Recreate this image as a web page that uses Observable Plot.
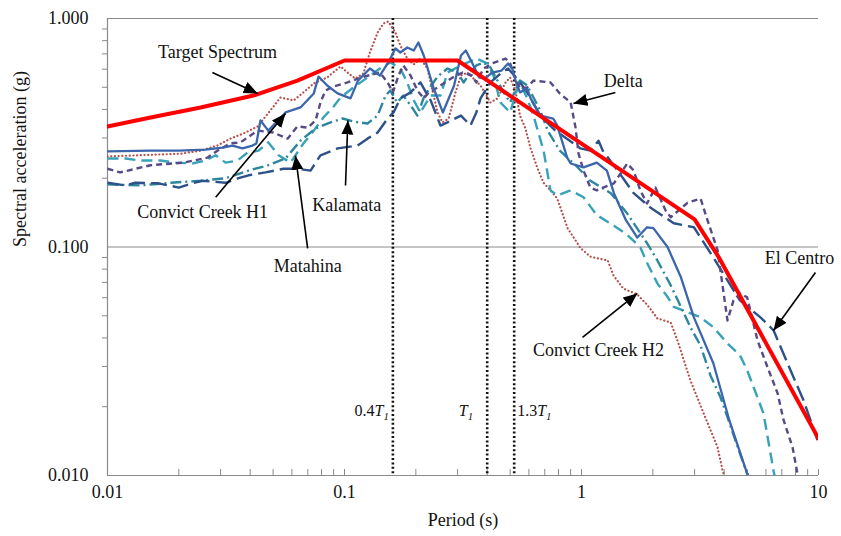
<!DOCTYPE html>
<html><head><meta charset="utf-8">
<script src="https://cdn.jsdelivr.net/npm/d3@7"></script>
<script src="https://cdn.jsdelivr.net/npm/@observablehq/plot@0.6"></script>
<style>html,body{margin:0;padding:0;background:#fff;}</style>
</head><body><div id="chart"></div>
<script>
// ---------- data (period in s, spectral acceleration in g) ----------
const targetT  = [0.01,0.0152,0.0247,0.0413,0.0633,0.1,0.3,3.0,3.8,10];
const targetSa = [0.337,0.369,0.408,0.46,0.535,0.655,0.655,0.132,0.09,0.0145];

const h1T  = [0.01,0.0152,0.02,0.0259,0.0306,0.0337,0.0371,0.0409,0.0425,0.0442,0.0477,0.0564,0.0652,0.0742,0.0777,0.0845,0.0935,0.106,0.114,0.128,0.141,0.153,0.164,0.172,0.184,0.196,0.205,0.216,0.238,0.26,0.29,0.31,0.325,0.345,0.37,0.39,0.42,0.46,0.49,0.51,0.53,0.55,0.59,0.61,0.67,0.76,0.79,0.87,0.90,1.02,1.16,1.28,1.37,1.54,1.72,1.89,2.01,2.31,2.63,2.98,3.6,4.2,5.0,5.4];
const h1Sa = [0.262,0.264,0.264,0.267,0.272,0.278,0.270,0.278,0.284,0.358,0.323,0.388,0.408,0.470,0.557,0.509,0.470,0.447,0.535,0.604,0.563,0.642,0.739,0.710,0.747,0.724,0.785,0.689,0.494,0.388,0.509,0.689,0.724,0.642,0.552,0.546,0.580,0.592,0.636,0.604,0.525,0.475,0.494,0.447,0.376,0.365,0.340,0.246,0.232,0.223,0.234,0.216,0.172,0.131,0.110,0.122,0.121,0.0997,0.0735,0.0492,0.031,0.0175,0.0102,0.0087];

const h2T  = [0.01,0.0203,0.0247,0.0291,0.033,0.0375,0.043,0.0487,0.0537,0.061,0.0671,0.0742,0.0845,0.0962,0.103,0.111,0.12,0.128,0.138,0.146,0.153,0.164,0.172,0.184,0.196,0.209,0.224,0.231,0.247,0.259,0.275,0.294,0.31,0.33,0.35,0.375,0.413,0.442,0.478,0.50,0.528,0.55,0.58,0.61,0.652,0.692,0.74,0.79,0.873,0.99,1.09,1.29,1.365,1.50,1.72,1.90,2.09,2.38,2.54,2.88,3.27,3.75,3.94,4.13];
const h2Sa = [0.249,0.256,0.264,0.278,0.298,0.314,0.337,0.396,0.451,0.438,0.475,0.520,0.552,0.617,0.580,0.546,0.574,0.710,0.869,0.951,0.970,0.869,0.762,0.668,0.629,0.668,0.604,0.525,0.388,0.351,0.365,0.475,0.563,0.580,0.546,0.509,0.429,0.447,0.525,0.552,0.475,0.376,0.330,0.270,0.221,0.191,0.177,0.163,0.121,0.099,0.0907,0.0873,0.0750,0.0658,0.0620,0.0556,0.0487,0.0467,0.0390,0.0261,0.0188,0.0133,0.0105,0.0090];

const deltaT  = [0.01,0.0113,0.0152,0.0209,0.0264,0.0291,0.033,0.0364,0.043,0.05,0.0575,0.0633,0.07,0.0755,0.0792,0.0831,0.09,0.103,0.114,0.126,0.141,0.152,0.16,0.169,0.177,0.19,0.203,0.216,0.227,0.247,0.286,0.315,0.345,0.36,0.386,0.42,0.478,0.50,0.52,0.55,0.59,0.627,0.74,0.81,0.90,0.944,0.971,1.02,1.09,1.16,1.37,1.56,1.66,1.77,1.89,2.05,2.26,2.38,2.80,3.18,3.40,3.75,4.13,4.38,4.66,5.0,5.53,6.10,6.72,7.12,7.77,8.15,8.4];
const deltaSa = [0.220,0.212,0.228,0.234,0.246,0.264,0.284,0.287,0.323,0.317,0.298,0.337,0.333,0.358,0.429,0.484,0.504,0.525,0.546,0.563,0.580,0.525,0.475,0.563,0.623,0.563,0.484,0.447,0.475,0.499,0.552,0.580,0.563,0.525,0.604,0.636,0.668,0.636,0.563,0.494,0.499,0.535,0.525,0.470,0.429,0.333,0.257,0.216,0.182,0.177,0.190,0.232,0.216,0.177,0.155,0.182,0.145,0.135,0.156,0.163,0.131,0.097,0.0477,0.0584,0.0626,0.0602,0.039,0.0297,0.0229,0.0175,0.0133,0.0102,0.0090];

const kalT  = [0.01,0.0138,0.0185,0.0247,0.0315,0.0394,0.0477,0.0564,0.0652,0.0755,0.0873,0.0981,0.109,0.125,0.138,0.149,0.156,0.167,0.177,0.19,0.203,0.216,0.231,0.247,0.272,0.30,0.318,0.34,0.36,0.386,0.413,0.442,0.469,0.50,0.537,0.55,0.59,0.627,0.67,0.72,0.81,0.944,1.09,1.33,1.56,1.89,2.09,2.38,2.63,2.88,3.18,3.50,3.86,4.13,4.66,5.0,5.27];
const kalSa = [0.188,0.186,0.191,0.195,0.200,0.216,0.228,0.244,0.292,0.330,0.351,0.365,0.354,0.347,0.376,0.460,0.484,0.429,0.460,0.417,0.376,0.451,0.504,0.557,0.604,0.580,0.525,0.580,0.623,0.642,0.610,0.535,0.475,0.429,0.509,0.535,0.509,0.451,0.396,0.323,0.264,0.228,0.195,0.172,0.140,0.104,0.0873,0.0679,0.0546,0.0446,0.0370,0.0274,0.0220,0.0180,0.0125,0.0102,0.0090];

const matT  = [0.01,0.0119,0.0138,0.0167,0.0194,0.0228,0.0259,0.0286,0.0315,0.0354,0.039,0.0434,0.0477,0.0527,0.0592,0.0671,0.0742,0.0815,0.09,0.0962,0.109,0.125,0.141,0.156,0.172,0.184,0.196,0.209,0.231,0.254,0.272,0.31,0.36,0.40,0.425,0.455,0.50,0.537,0.55,0.59,0.627,0.692,0.74,0.79,0.90,1.02,1.16,1.37,1.56,1.77,1.89,2.09,2.31,2.45,2.80,3.18,3.6,4.13,4.66,5.0,5.32,5.86,6.46,6.66];
const matSa = [0.244,0.244,0.239,0.239,0.234,0.232,0.239,0.252,0.234,0.239,0.259,0.264,0.287,0.252,0.234,0.284,0.323,0.369,0.412,0.451,0.499,0.552,0.604,0.642,0.604,0.525,0.438,0.388,0.460,0.460,0.580,0.623,0.668,0.636,0.563,0.429,0.388,0.494,0.525,0.447,0.376,0.264,0.177,0.168,0.177,0.165,0.138,0.124,0.113,0.0997,0.0853,0.0693,0.0604,0.0547,0.0519,0.0492,0.0446,0.0378,0.0336,0.0289,0.0244,0.0187,0.0105,0.0090];

const elcT  = [0.01,0.0119,0.0131,0.0164,0.02,0.0228,0.0252,0.0315,0.0357,0.0394,0.0464,0.0553,0.0633,0.0719,0.0792,0.0935,0.1135,0.125,0.138,0.152,0.161,0.172,0.19,0.209,0.231,0.254,0.272,0.31,0.34,0.36,0.375,0.413,0.455,0.49,0.52,0.55,0.59,0.67,0.776,0.925,0.99,1.09,1.18,1.23,1.42,1.66,1.95,2.45,2.98,3.6,4.13,4.66,5.69,6.46,7.40,8.65,9.9];
const elcSa = [0.191,0.186,0.191,0.190,0.182,0.190,0.195,0.191,0.200,0.206,0.212,0.220,0.220,0.216,0.252,0.270,0.278,0.298,0.317,0.365,0.388,0.447,0.475,0.525,0.438,0.340,0.351,0.376,0.340,0.388,0.447,0.525,0.574,0.604,0.563,0.525,0.475,0.376,0.323,0.284,0.270,0.264,0.292,0.264,0.216,0.172,0.149,0.127,0.122,0.090,0.0714,0.0584,0.0492,0.0432,0.031,0.0213,0.0143];

const periodMarks  = [0.16, 0.4, 0.52];
const periodLabels = ["0.4T1", "T1", "1.3T1"];

const xMajor = [0.01, 0.1, 1, 10];
const yMajor = [0.01, 0.1, 1];
const xMinor = [0.02,0.03,0.04,0.05,0.06,0.07,0.08,0.09,0.2,0.3,0.4,0.5,0.6,0.7,0.8,0.9,2,3,4,5,6,7,8,9];
const yMinor = [0.02,0.03,0.04,0.05,0.06,0.07,0.08,0.09,0.2,0.3,0.4,0.5,0.6,0.7,0.8,0.9];

const annLabels = ["Target Spectrum","Convict Creek H1","Kalamata","Matahina","Delta","El Centro","Convict Creek H2"];
const annTextT  = [0.0291,0.0252,0.1023,0.0699,1.50,8.32,1.18];
const annTextSa = [0.71,0.1416,0.153,0.0822,0.53,0.0891,0.0352];
const annFromT  = [0.0277,0.0286,0.101,0.0699,1.39,9.71,1.01];
const annFromSa = [0.58,0.165,0.186,0.0986,0.474,0.0773,0.0402];
const annToT    = [0.043,0.0564,0.1033,0.0621,0.925,6.46,1.72];
const annToSa   = [0.47,0.384,0.358,0.251,0.425,0.0431,0.0626];

// ---------- styles ----------
const seriesDefs = [
  {T: h2T,    Sa: h2Sa,    stroke: "#b5504c", width: 2.2, dash: "0.1 3.6", cap: "round"},
  {T: matT,   Sa: matSa,   stroke: "#38a2b8", width: 2.4, dash: "11 6", cap: "butt"},
  {T: kalT,   Sa: kalSa,   stroke: "#2c879e", width: 2.4, dash: "11 4 2 4", cap: "butt"},
  {T: elcT,   Sa: elcSa,   stroke: "#2d5189", width: 2.4, dash: "16 6", cap: "butt"},
  {T: deltaT, Sa: deltaSa, stroke: "#574a86", width: 2.4, dash: "6 4", cap: "butt"},
  {T: h1T,    Sa: h1Sa,    stroke: "#3c66ab", width: 2.3, dash: null, cap: "round"}
];
const rowsOf = (T, Sa) => T.map((t, i) => ({T: t, Sa: Sa[i]})).filter(d => d.Sa != null);
const annotations = annLabels.map((l, i) => ({label: l, x: annTextT[i], y: annTextSa[i],
  x1: annFromT[i], y1: annFromSa[i], x2: annToT[i], y2: annToSa[i]}));
const pm = periodMarks.map((t, i) => ({T: t, label: periodLabels[i]}));

const NS = "http://www.w3.org/2000/svg";
function headMarker() {
  const m = document.createElementNS(NS, "marker");
  m.setAttribute("viewBox", "-14 -6.5 14 13");
  m.setAttribute("markerWidth", "14");
  m.setAttribute("markerHeight", "13");
  m.setAttribute("markerUnits", "userSpaceOnUse");
  m.setAttribute("orient", "auto");
  m.setAttribute("refX", "0");
  m.setAttribute("refY", "0");
  const p = document.createElementNS(NS, "path");
  p.setAttribute("d", "M-14,-6L0,0L-14,6Z");
  p.setAttribute("fill", "black");
  p.setAttribute("stroke", "none");
  m.appendChild(p);
  return m;
}

function build(marker) {
  const grey = "#8a8a8a";
  return Plot.plot({
    width: 841, height: 536,
    marginLeft: 107, marginRight: 23, marginTop: 18, marginBottom: 61,
    style: {fontFamily: "'Liberation Serif','Times New Roman',serif", fontSize: "18px", background: "#fff", color: "#111"},
    x: {type: "log", domain: [0.01, 10]},
    y: {type: "log", domain: [0.01, 1]},
    marks: [
      Plot.ruleY([0.1, 1], {stroke: grey, strokeWidth: 1}),
      Plot.ruleY([0.01], {stroke: grey, strokeWidth: 1.2}),
      Plot.ruleX([0.01], {stroke: grey, strokeWidth: 1.2}),
      Plot.tickX(xMinor.concat(xMajor), {x: d => d, insetTop: 451, stroke: grey}),
      Plot.axisY({ticks: yMinor, tickSize: 5, tickFormat: () => "", color: grey, label: null}),
      Plot.axisY({ticks: yMajor, tickSize: 0, tickPadding: 19, tickFormat: d => d.toFixed(3), label: null, color: "#111"}),
      Plot.axisX({ticks: xMajor, tickSize: 0, tickPadding: 10, tickFormat: d => String(d), label: null, color: "#111"}),
      Plot.ruleX(pm, {x: "T", stroke: "#111", strokeWidth: 2.6, strokeDasharray: "2 2.4"}),
      ...seriesDefs.map(s => Plot.line(rowsOf(s.T, s.Sa), {x: "T", y: "Sa", stroke: s.stroke, strokeWidth: s.width,
        strokeDasharray: s.dash, strokeLinecap: s.cap, strokeLinejoin: "round", clip: true})),
      Plot.line(rowsOf(targetT, targetSa), {x: "T", y: "Sa", stroke: "#ff0000", strokeWidth: 4, strokeLinejoin: "round", clip: true}),
      Plot.link(annotations, {x1: "x1", y1: "y1", x2: "x2", y2: "y2", stroke: "#000", strokeWidth: 1.6, markerEnd: marker}),
      Plot.text(annotations, {x: "x", y: "y", text: "label", fontSize: 18, fill: "#111"}),
      Plot.text([pm[0]], {x: "T", y: () => 0.0192, text: "label", textAnchor: "end", dx: -4, fontSize: 16, fill: "#111"}),
      Plot.text([pm[1]], {x: "T", y: () => 0.0192, text: "label", textAnchor: "end", dx: -14, fontSize: 16, fill: "#111"}),
      Plot.text([pm[2]], {x: "T", y: () => 0.0192, text: "label", textAnchor: "start", dx: 3, fontSize: 16, fill: "#111"}),
      Plot.text(["Period (s)"], {frameAnchor: "bottom", dy: 50, fontSize: 18, fill: "#111"}),
      Plot.text(["Spectral acceleration (g)"], {frameAnchor: "left", dx: -87, rotate: -90, fontSize: 18, fill: "#111"})
    ]
  });
}

let chart;
try { chart = build(headMarker); } catch (e) { chart = build("arrow"); }

// subscripts for T1 labels
d3.select(chart).selectAll("text").each(function () {
  const t = this.textContent;
  const m = t.match(/^(.*)T1$/);
  if (m && this.childElementCount === 0) {
    const s = d3.select(this);
    s.text(null);
    if (m[1]) s.append("tspan").text(m[1]);
    s.append("tspan").attr("font-style", "italic").text("T");
    s.append("tspan").attr("font-style", "italic").attr("font-size", "0.68em").attr("dy", "0.35em").text("1");
  }
});
document.getElementById("chart").appendChild(chart);
</script>
</body></html>
